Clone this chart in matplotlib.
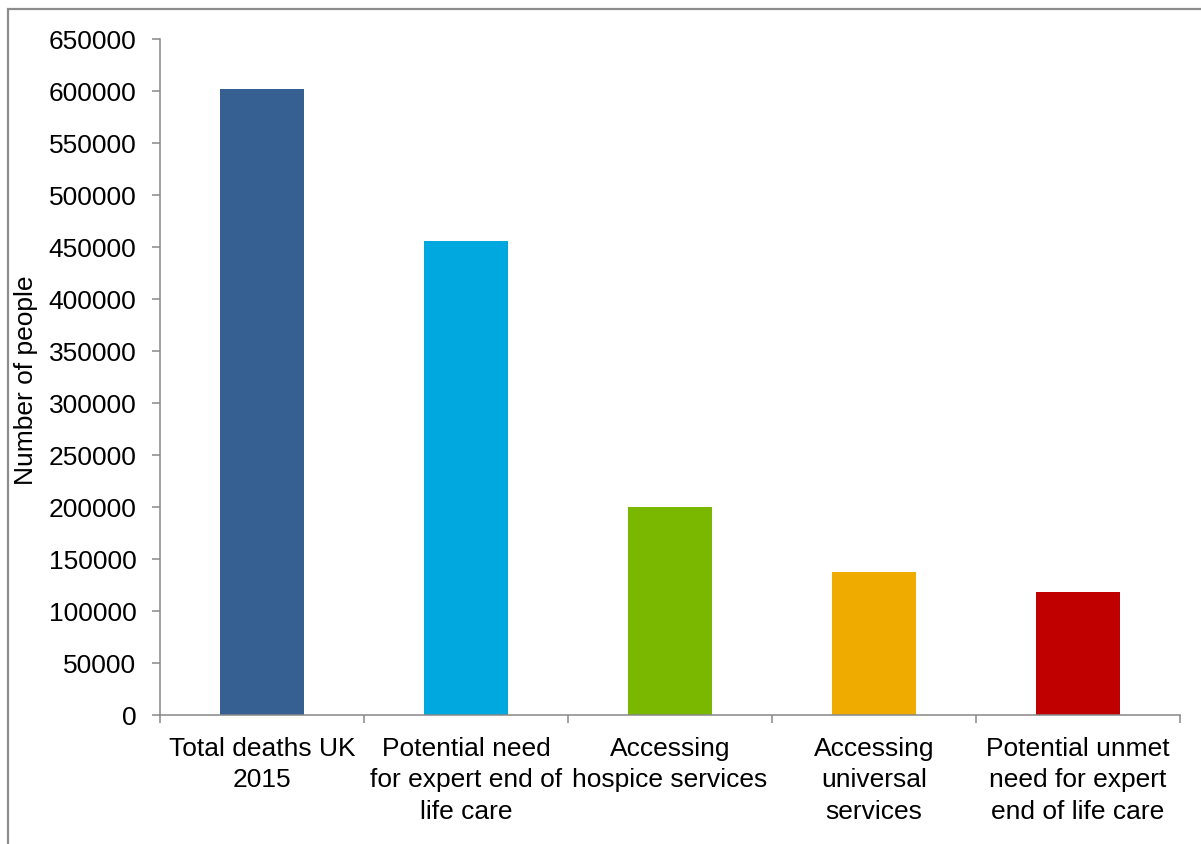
import matplotlib.pyplot as plt
import numpy as np
from matplotlib.lines import Line2D

categories = ["Total deaths UK\n2015",
              "Potential need\nfor expert end of\nlife care",
              "Accessing\nhospice services",
              "Accessing\nuniversal\nservices",
              "Potential unmet\nneed for expert\nend of life care"]
people = [602000, 456000, 200000, 137500, 118000]
colors = ["#366092", "#00A8E0", "#7AB800", "#F0AB00", "#C00000"]
yticks = list(range(0, 650001, 50000))

plt.rcParams['font.family'] = ['Liberation Sans', 'DejaVu Sans']

W, H = 1201, 845
fig = plt.figure(figsize=(W / 100, H / 100), dpi=100)
ax = fig.add_axes([160 / W, 1 - 716 / H, (1180 - 160) / W, (716 - 40) / H])

x = np.arange(len(categories))
ax.bar(x, people, width=0.41, color=colors, zorder=2)

ax.set_xlim(-0.5, len(categories) - 0.5)
ax.set_ylim(0, 650000)
ax.set_yticks(yticks)
ax.set_yticklabels([str(v) for v in yticks])

# category boundaries get the tick marks, centres get the labels
ax.set_xticks(np.arange(-0.5, len(categories)), [])
ax.set_xticks(x, categories, minor=True)
ax.tick_params(axis='x', which='major', length=6, width=1.1, color='#888888', direction='out')
ax.tick_params(axis='x', which='minor', length=0, pad=15, labelsize=19)
ax.tick_params(axis='y', length=6, width=1.1, color='#888888', direction='out', pad=11, labelsize=19)
for lbl in ax.get_xticklabels(minor=True):
    lbl.set_linespacing(1.4)

for s in ['top', 'right']:
    ax.spines[s].set_visible(False)
for s in ['left', 'bottom']:
    ax.spines[s].set_color('#888888')
    ax.spines[s].set_linewidth(1.1)

fig.text(26 / W, 1 - 380 / H, "Number of people", rotation=90, ha='center', va='center', fontsize=19)

# outer frame, left and top edges
fx, fy = 7.5 / W, 1 - 10 / H
fig.add_artist(Line2D([fx, fx, 1.0], [0.0, fy, fy], transform=fig.transFigure,
                      color='#8c8c8c', linewidth=1.6, solid_joinstyle='miter'))

fig.savefig("out.png", dpi=100)
